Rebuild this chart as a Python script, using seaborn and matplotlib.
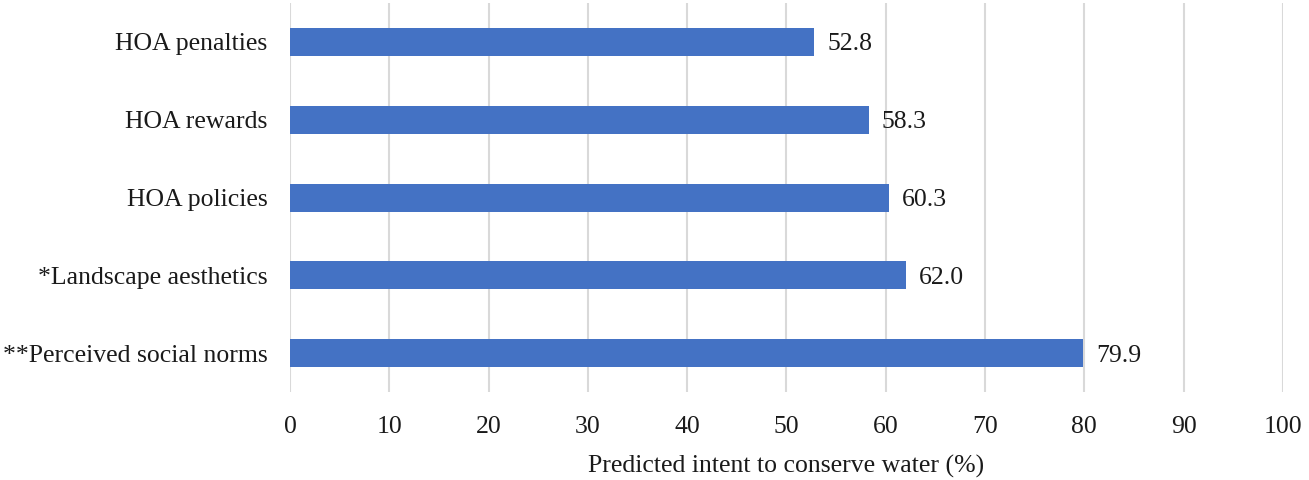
import matplotlib
matplotlib.use('Agg')
import matplotlib.pyplot as plt
import seaborn as sns
import pandas as pd

categories = ['HOA penalties', 'HOA rewards', 'HOA policies',
              '*Landscape aesthetics', '**Perceived social norms']
values = [52.8, 58.3, 60.3, 62.0, 79.9]
x_ticks = list(range(0, 101, 10))

df = pd.DataFrame({'factor': categories, 'intent': values})

sns.set_theme(style='white')
plt.rcParams['font.family'] = ['Liberation Serif', 'DejaVu Serif']

fs = 18.5
fig = plt.figure(figsize=(13.09, 4.8), dpi=100)
ax = fig.add_axes([0.2215, 0.183, 0.7585, 0.811])

sns.barplot(data=df, x='intent', y='factor', orient='h', color='#4472C4',
            saturation=1, width=0.36, linewidth=0, ax=ax, zorder=3)

for i, v in enumerate(values):
    ax.text(v + 1.3, i + 0.03, f'{v:.1f}', va='center', ha='left', fontsize=fs,
            color='#1a1a1a')

ax.set_xlim(0, 100)
ax.set_ylim(4.5, -0.5)
ax.set_xticks(x_ticks)
ax.grid(axis='x', color='#d9d9d9', linewidth=1.5, zorder=0)
ax.grid(axis='y', visible=False)
for s in ax.spines.values():
    s.set_visible(False)
ax.tick_params(axis='both', length=0, labelsize=fs, colors='#1a1a1a')
ax.tick_params(axis='y', pad=16)
ax.tick_params(axis='x', pad=17)
ax.set_ylabel('')
ax.set_xlabel('Predicted intent to conserve water (%)', fontsize=fs,
              color='#1a1a1a', labelpad=12)

fig.savefig('out.png', dpi=100)
